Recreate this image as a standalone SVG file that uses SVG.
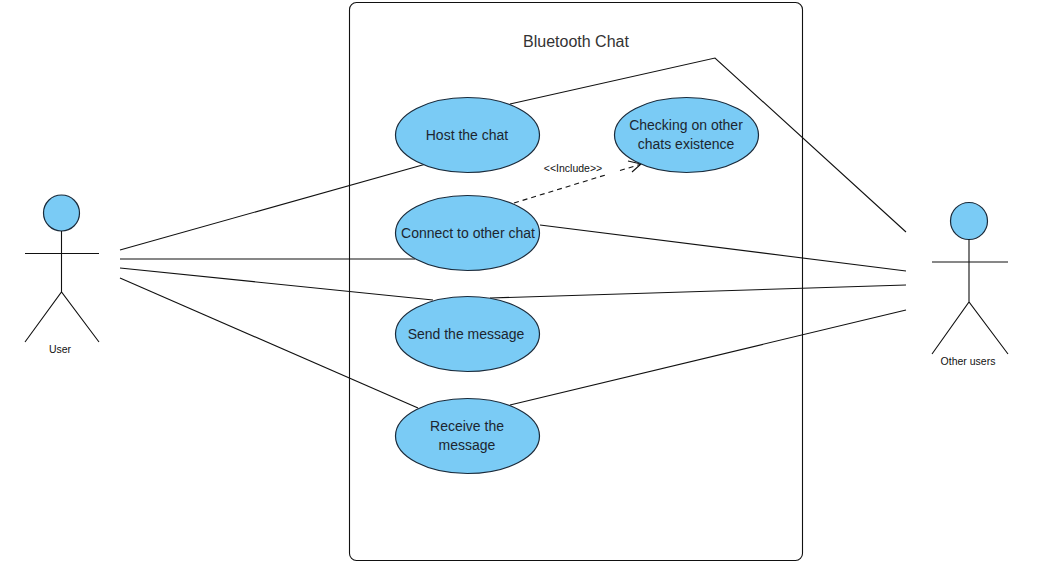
<svg xmlns="http://www.w3.org/2000/svg" width="1037" height="565" viewBox="0 0 1037 565">
<style>
text{font-family:"Liberation Sans",Arial,sans-serif;fill:#1c2630;text-anchor:middle}
.uc{fill:#7acbf5;stroke:#1a2a3a;stroke-width:1.2}
.uct{font-size:14px}
.small{font-size:10.500px;fill:#111}
.ln{fill:none;stroke:#111;stroke-width:1.1}
</style>
<rect width="1037" height="565" fill="#fff"/>
<g id="system"><rect x="349.500" y="2.500" width="453" height="558" rx="7" fill="#fff" stroke="#111" stroke-width="1.1"/>
<text x="576" y="47" font-size="16" style="fill:#333">Bluetooth Chat</text></g>
<g id="connectors">
<path class="ln" d="M120 250L426 164"/>
<path class="ln" d="M120 259H415"/>
<path class="ln" d="M120 268L433 300"/>
<path class="ln" d="M120 278L418 408"/>
<path class="ln" d="M510 104L715 58L906 232"/>
<path class="ln" d="M540 225L906 271"/>
<path class="ln" d="M490 298L906 285"/>
<path class="ln" d="M510 405L906 310"/>
<path class="ln" d="M514 203L607 174.500M620 170.500L640 164.500" stroke-dasharray="5 4"/>
<path class="ln" d="M628 161L641 164L632 172"/>
<text class="small" x="573" y="172">&lt;&lt;Include&gt;&gt;</text>
</g>
<g id="uc-host"><ellipse class="uc" cx="467.500" cy="135" rx="72" ry="37.500"/><text class="uct" x="467" y="140">Host the chat</text></g>
<g id="uc-check"><ellipse class="uc" cx="686.500" cy="135" rx="72" ry="37.500"/><text class="uct" x="686" y="130">Checking on other</text><text class="uct" x="686" y="149">chats existence</text></g>
<g id="uc-connect"><ellipse class="uc" cx="467.500" cy="233" rx="72" ry="37.500"/><text class="uct" x="468" y="238">Connect to other chat</text></g>
<g id="uc-send"><ellipse class="uc" cx="467.500" cy="334" rx="72" ry="37.500"/><text class="uct" x="466" y="339">Send the message</text></g>
<g id="uc-receive"><ellipse class="uc" cx="467.500" cy="436" rx="72" ry="37.500"/><text class="uct" x="467" y="431">Receive the</text><text class="uct" x="467" y="450">message</text></g>
<g id="actor-user"><circle class="uc" cx="61.500" cy="213" r="18"/><path class="ln" d="M61.500 231V292M25 253.500H99M25 342L61.500 292L99 342"/><text class="small" x="60" y="353">User</text></g>
<g id="actor-other"><circle class="uc" cx="969" cy="221" r="18.500"/><path class="ln" d="M969 239V302M932 262H1008M932 354L969 302L1008 354"/><text class="small" x="968" y="365">Other users</text></g>
</svg>
